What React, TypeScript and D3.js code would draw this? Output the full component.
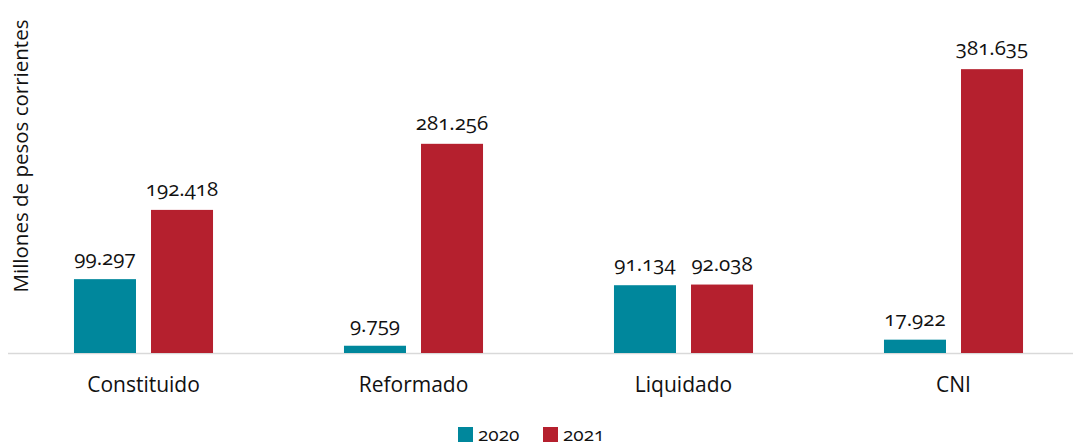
import React from "react";
import * as d3 from "d3";

const categories = ["Constituido", "Reformado", "Liquidado", "CNI"];
const years = ["2020", "2021"];
const values2020 = [99.297, 9.759, 91.134, 17.922];
const values2021 = [192.418, 281.256, 92.038, 381.635];
const colors = ["#00879c", "#b5202e"];

const fmt = (v: number) => v.toFixed(3);

const App = () => {
  const width = 1073,
    height = 446;
  const base = 353;
  const font = "'Open Sans', 'Noto Sans', sans-serif";

  const x = d3
    .scaleBand()
    .domain(categories)
    .range([8.5, 1088.5])
    .paddingInner(0.485)
    .paddingOuter(0.2425);

  const x1 = d3
    .scaleBand()
    .domain(years)
    .range([0, x.bandwidth()])
    .paddingInner(0.195);

  const y = d3.scaleLinear().domain([0, 400]).range([base, 55.5]);

  const series = [values2020, values2021];

  return (
    <svg width={width} height={height} style={{ position: "absolute", left: 0, top: 0 }}>
      <rect width={width} height={height} fill="#fff" />
      <line x1={8} x2={1073} y1={base + 0.5} y2={base + 0.5} stroke="#d9d9d9" strokeWidth={1.5} />
      {categories.map((c, i) => (
        <g key={c}>
          {series.map((s, j) => {
            const bx = (x(c) as number) + (x1(years[j]) as number);
            return (
              <g key={j}>
                <rect
                  x={bx}
                  y={y(s[i])}
                  width={x1.bandwidth()}
                  height={base - y(s[i])}
                  fill={colors[j]}
                />
                <text
                  x={bx + x1.bandwidth() / 2}
                  y={y(s[i]) - 14}
                  textAnchor="middle"
                  fontFamily={font}
                  fontSize={20.5}
                  fill="#111"
                  style={{ fontVariantNumeric: "oldstyle-nums" }}
                >
                  {fmt(s[i])}
                </text>
              </g>
            );
          })}
          <text
            x={(x(c) as number) + x.bandwidth() / 2}
            y={392}
            textAnchor="middle"
            fontFamily={font}
            fontSize={21}
            fill="#111"
          >
            {c}
          </text>
        </g>
      ))}
      <text
        transform="translate(28,156) rotate(-90)"
        textAnchor="middle"
        fontFamily={font}
        fontSize={20.5}
        fill="#111"
      >
        Millones de pesos corrientes
      </text>
      {years.map((yr, j) => (
        <g key={yr} transform={`translate(${458 + j * 85},427)`}>
          <rect width={15} height={15} fill={colors[j]} />
          <text
            x={20}
            y={14}
            fontFamily={font}
            fontSize={19}
            fill="#111"
            style={{ fontVariantNumeric: "oldstyle-nums" }}
          >
            {yr}
          </text>
        </g>
      ))}
    </svg>
  );
};

export default App;
